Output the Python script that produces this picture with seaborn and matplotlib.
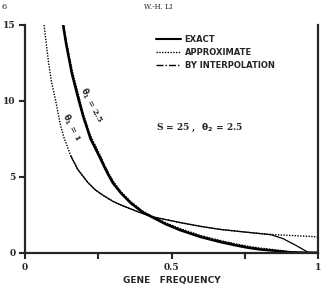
import numpy as np
import pandas as pd
import matplotlib
matplotlib.use("Agg")
import matplotlib.pyplot as plt
from matplotlib.lines import Line2D
import seaborn as sns

# curves (gene frequency vs value)
x_t25 = [0.13, 0.14, 0.16, 0.184, 0.20, 0.224, 0.25, 0.28, 0.30, 0.327, 0.36, 0.40, 0.43, 0.48, 0.53, 0.60,
         0.667, 0.72, 0.76, 0.80, 0.85, 0.90, 0.95, 1.0]
exact_t25 = [15, 13.8, 11.8, 10, 8.9, 7.5, 6.5, 5.3, 4.6, 3.95, 3.3, 2.7, 2.4, 1.9, 1.5, 1.05,
             0.72, 0.5, 0.35, 0.24, 0.15, 0.05, 0.02, 0.0]
approx_t25 = [15.3, 14.1, 12.1, 10.3, 9.1, 7.7, 6.7, 5.45, 4.75, 4.05, 3.4, 2.78, 2.45, 2.0, 1.6, 1.15,
              0.82, 0.6, 0.45, 0.33, 0.22, 0.1, 0.03, 0.0]
interp_t25 = [15.1, 13.9, 11.9, 10.15, 9.0, 7.6, 6.6, 5.4, 4.7, 4.0, 3.35, 2.74, 2.42, 1.95, 1.55, 1.1,
              0.78, 0.55, 0.4, 0.28, 0.18, 0.07, 0.02, 0.0]

x_t1 = [0.065, 0.07, 0.08, 0.09, 0.105, 0.12, 0.133, 0.156, 0.18, 0.214, 0.24, 0.27, 0.30, 0.327, 0.38, 0.43,
        0.53, 0.60, 0.667, 0.75, 0.84, 0.88, 0.92, 0.966, 1.0]
approx_t1 = [15, 14.2, 12.6, 11.3, 10, 8.5, 7.6, 6.4, 5.5, 4.65, 4.15, 3.75, 3.4, 3.16, 2.75, 2.4,
             2.0, 1.75, 1.55, 1.38, 1.22, 1.18, 1.14, 1.1, 1.05]
exact_t1 = [np.nan, np.nan, np.nan, np.nan, np.nan, np.nan, np.nan, 6.4, 5.5, 4.65, 4.15, 3.75, 3.4, 3.16, 2.75, 2.4,
            2.0, 1.75, 1.55, 1.38, 1.2, 0.95, 0.55, 0.05, 0.05]

legend_labels = ["EXACT", "APPROXIMATE", "BY INTERPOLATION"]

sns.set_style("ticks")
fig = plt.figure(figsize=(3.27, 2.85), dpi=100)
ax = fig.add_axes([25 / 327, 1 - 253 / 285, 293 / 327, 228 / 285])

dots = (0, (1, 1))
dashdot = (0, (5, 1.5, 1, 1.5))
sns.lineplot(x=x_t25, y=exact_t25, ax=ax, color="black", lw=1.8)
sns.lineplot(x=x_t25, y=approx_t25, ax=ax, color="black", lw=1.0, linestyle=dots)
sns.lineplot(x=x_t25, y=interp_t25, ax=ax, color="black", lw=1.0, linestyle=dashdot)
sns.lineplot(x=x_t1, y=approx_t1, ax=ax, color="black", lw=1.0, linestyle=dots)
sns.lineplot(x=x_t1, y=exact_t1, ax=ax, color="black", lw=0.9)

ax.set_xlim(0, 1)
ax.set_ylim(0, 15)
ax.set_xticks([0, 0.25, 0.5, 0.75, 1])
ax.set_xticklabels(["0", "", "0.5", "", "1"])
ax.set_yticks([0, 5, 10, 15])
ax.set_yticklabels(["0", "5", "10", "15"])
for lab in ax.get_xticklabels() + ax.get_yticklabels():
    lab.set_fontfamily("DejaVu Serif")
    lab.set_fontweight("bold")
    lab.set_fontsize(6.5)
ax.tick_params(axis="both", direction="out", length=4, width=1.5, pad=3)
ax.spines["top"].set_visible(False)
for s in ["left", "bottom", "right"]:
    ax.spines[s].set_linewidth(1.6)

ax.set_xlabel("GENE   FREQUENCY", fontsize=6.5, fontweight="bold", labelpad=3)
ax.set_ylabel("")

handles = [Line2D([], [], color="black", lw=1.5),
           Line2D([], [], color="black", lw=1.0, linestyle=dots),
           Line2D([], [], color="black", lw=1.0, linestyle=dashdot)]
ax.legend(handles, legend_labels, loc="upper left", bbox_to_anchor=(0.42, 0.99),
          frameon=False, handlelength=3.0, handletextpad=0.5, labelspacing=0.5,
          prop={"size": 6, "weight": "bold"})

ax.text(0.446, 8.2, r"S = 25 ,  $\mathbf{\theta_2}$ = 2.5", fontsize=6.5, fontweight="bold",
        family="DejaVu Serif", va="center", ha="left")
ax.text(0.228, 9.7, r"$\mathbf{\theta_1}$ = 2.5", fontsize=6, fontweight="bold", family="DejaVu Serif",
        rotation=-62, ha="center", va="center")
ax.text(0.158, 8.3, r"$\mathbf{\theta_1}$ = 1", fontsize=6, fontweight="bold", family="DejaVu Serif",
        rotation=-62, ha="center", va="center")

fig.text(158 / 327, 1 - 7 / 285, "W.-H. LI", fontsize=5, family="DejaVu Serif", ha="center", va="center")
fig.text(0.004, 1 - 7 / 285, "6", fontsize=6, family="DejaVu Serif", ha="left", va="center")

fig.savefig("out.png", dpi=100)
